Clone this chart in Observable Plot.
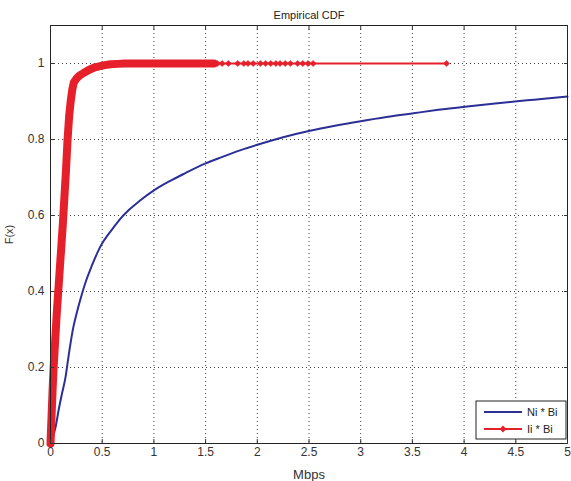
<!DOCTYPE html>
<html>
<head>
<meta charset="utf-8">
<script src="https://cdn.jsdelivr.net/npm/d3@7"></script>
<script src="https://cdn.jsdelivr.net/npm/@observablehq/plot@0.6"></script>
<style>
  html, body { margin: 0; padding: 0; background: #fff; }
  #chart svg { display: block; }
</style>
</head>
<body>
<div id="chart"></div>
<script>
// ---- data ----
const title = "Empirical CDF";
const xLabel = "Mbps";
const yLabel = "F(x)";
const seriesNames = ["Ni * Bi", "Ii * Bi"];
const seriesColors = ["#2b2f96", "#e6202a"];

const xTicks = [0, 0.5, 1, 1.5, 2, 2.5, 3, 3.5, 4, 4.5, 5];
const xTickLabels = ["0", "0.5", "1", "1.5", "2", "2.5", "3", "3.5", "4", "4.5", "5"];
const yTicks = [0, 0.2, 0.4, 0.6, 0.8, 1];
const yTickLabels = ["0", "0.2", "0.4", "0.6", "0.8", "1"];

// Ni * Bi (blue)
const niX = [0, 0.02, 0.048, 0.08, 0.11, 0.145, 0.18, 0.22, 0.26, 0.29, 0.34, 0.4, 0.455, 0.5, 0.55, 0.6, 0.677, 0.76, 0.86, 1.0, 1.15, 1.3, 1.5, 1.65, 1.84, 2.0, 2.25, 2.51, 2.75, 3.0, 3.25, 3.51, 3.75, 4.03, 4.3, 4.61, 4.8, 5.0];
const niY = [0, 0.015, 0.042, 0.09, 0.13, 0.174, 0.24, 0.305, 0.35, 0.38, 0.425, 0.468, 0.503, 0.527, 0.547, 0.565, 0.592, 0.615, 0.638, 0.666, 0.690, 0.711, 0.737, 0.753, 0.772, 0.786, 0.806, 0.823, 0.836, 0.848, 0.859, 0.869, 0.878, 0.887, 0.895, 0.903, 0.908, 0.913];

// Ii * Bi (red)
const iiX = [0, 0.01, 0.02, 0.03, 0.045, 0.06, 0.075, 0.09, 0.105, 0.12, 0.135, 0.15, 0.165, 0.18, 0.195, 0.21, 0.225, 0.25, 0.28, 0.32, 0.37, 0.43, 0.51, 0.58, 0.65, 0.72, 0.8, 0.9, 1.0, 1.1, 1.2, 1.3, 1.4, 1.5, 1.58,
  1.615, 1.66, 1.72, 1.81, 1.87, 1.91, 1.96, 2.03, 2.08, 2.13, 2.18, 2.22, 2.27, 2.32, 2.39, 2.44, 2.49, 2.54, 3.83];
const iiY = [0, 0.07, 0.14, 0.2, 0.27, 0.34, 0.4, 0.46, 0.52, 0.58, 0.65, 0.72, 0.8, 0.86, 0.9, 0.93, 0.95, 0.96, 0.968, 0.975, 0.983, 0.99, 0.995, 0.998, 0.999, 1, 1, 1, 1, 1, 1, 1, 1, 1, 1,
  1, 1, 1, 1, 1, 1, 1, 1, 1, 1, 1, 1, 1, 1, 1, 1, 1, 1, 1];

// ---- tables built from the arrays ----
const ni = niX.map((x, i) => ({x, y: niY[i]}));
const ii = iiX.map((x, i) => ({x, y: iiY[i]}));
const iiDense = ii.filter(d => d.x <= 1.6);

const font = "'Liberation Sans', Arial, Helvetica, sans-serif";
const textColor = "#333";

const chart = Plot.plot({
  width: 571,
  height: 481,
  marginLeft: 50,
  marginRight: 4,
  marginTop: 25,
  marginBottom: 38,
  style: {fontFamily: font, fontSize: "12px", color: textColor, background: "#fff", overflow: "visible"},
  x: {domain: [0, 5]},
  y: {domain: [0, 1.1]},
  marks: [
    Plot.gridX(xTicks, {stroke: "#000", strokeOpacity: 0.75, strokeDasharray: "1,3"}),
    Plot.gridY(yTicks, {stroke: "#000", strokeOpacity: 0.75, strokeDasharray: "1,3"}),
    Plot.line(ni, {x: "x", y: "y", stroke: seriesColors[0], strokeWidth: 2, curve: "monotone-x"}),
    Plot.line(iiDense, {x: "x", y: "y", stroke: seriesColors[1], strokeWidth: 8, strokeLinecap: "round"}),
    Plot.line(ii, {x: "x", y: "y", stroke: seriesColors[1], strokeWidth: 1.8}),
    Plot.dot(ii, {x: "x", y: "y", symbol: "diamond2", r: 2.8, fill: seriesColors[1], stroke: seriesColors[1], strokeWidth: 0.5}),
    Plot.frame({stroke: "#222"}),
    Plot.axisX({anchor: "bottom", ticks: xTicks, tickFormat: d => xTickLabels[xTicks.indexOf(d)], tickSize: -4, tickPadding: 8,
      label: xLabel, labelAnchor: "center", labelOffset: 35, labelArrow: "none"}),
    Plot.axisX({anchor: "top", ticks: xTicks, tickFormat: () => "", tickSize: -4, label: null}),
    Plot.axisY({anchor: "left", ticks: yTicks, tickFormat: d => yTickLabels[yTicks.indexOf(d)], tickSize: -4, tickPadding: 10,
      label: yLabel, labelAnchor: "center", labelOffset: 45, labelArrow: "none"}),
    Plot.axisY({anchor: "right", ticks: yTicks, tickFormat: () => "", tickSize: -4, label: null}),
    Plot.text([title], {text: d => d, frameAnchor: "top", dy: -14, fontSize: 11, fill: "#222"})
  ]
});

// axis label font sizes
d3.select(chart).selectAll("[aria-label='x-axis label'] text").attr("font-size", 13);
d3.select(chart).selectAll("[aria-label='y-axis label'] text").attr("font-size", 11);

// ---- legend (inside the plot, bottom-right) ----
const svg = d3.select(chart);
const lg = svg.append("g").attr("font-family", font).attr("font-size", 11).attr("text-anchor", "start");
const bx = 476, by = 401, bw = 90, bh = 38;
lg.append("rect").attr("x", bx).attr("y", by).attr("width", bw).attr("height", bh)
  .attr("fill", "#fff").attr("stroke", "#222").attr("stroke-width", 1);
seriesNames.forEach((name, i) => {
  const yy = by + 11 + i * 17;
  lg.append("line").attr("x1", bx + 8).attr("x2", bx + 46).attr("y1", yy).attr("y2", yy)
    .attr("stroke", seriesColors[i]).attr("stroke-width", 2);
  if (i === 1) {
    lg.append("path").attr("d", d3.symbol(d3.symbolDiamond2, 30)()).attr("transform", `translate(${bx + 27},${yy})`)
      .attr("fill", seriesColors[i]);
  }
  lg.append("text").attr("x", bx + 51).attr("y", yy).attr("dy", "0.35em").attr("text-anchor", "start").attr("fill", "#222").text(name);
});

document.getElementById("chart").appendChild(chart);
</script>
</body>
</html>
